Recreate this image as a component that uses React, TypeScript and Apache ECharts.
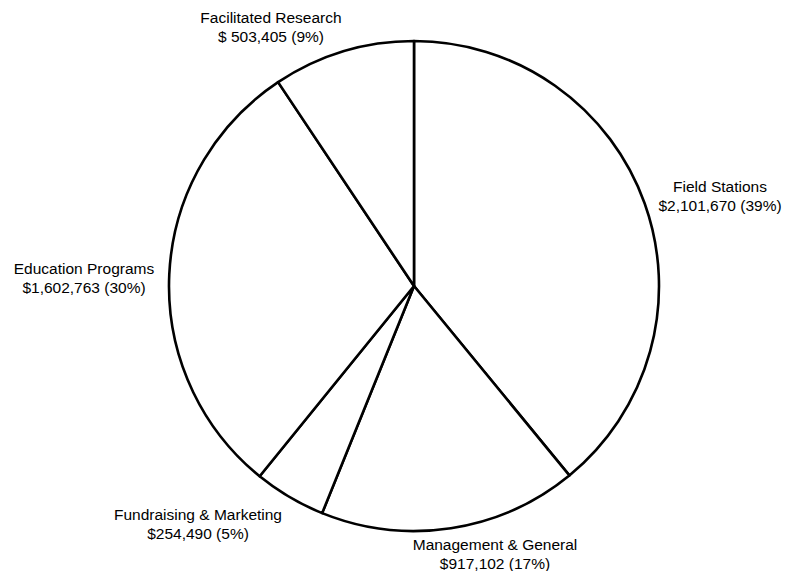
import React, { useEffect, useRef } from "react";
import * as echarts from "echarts";

// Data (clockwise from 12 o'clock)
const categories = [
  "Field Stations",
  "Management & General",
  "Fundraising & Marketing",
  "Education Programs",
  "Facilitated Research",
];
const amounts = [2101670, 917102, 254490, 1602763, 503405];
const currencyPrefix = ["$", "$", "$", "$", "$ "];

// Label anchor points (centre of each two-line label), layout only
const labelAnchors: [number, number][] = [
  [720, 196],
  [495, 554],
  [198, 524],
  [84, 278],
  [271, 27],
];

export default function App() {
  const ref = useRef<HTMLDivElement>(null);

  useEffect(() => {
    if (!ref.current) return;
    const chart = echarts.init(ref.current, undefined, { renderer: "svg" });
    chart.setOption({
      animation: false,
      backgroundColor: "#ffffff",
      series: [
        {
          type: "pie",
          silent: true,
          center: [414, 286],
          radius: 245,
          startAngle: 90,
          clockwise: true,
          percentPrecision: 0,
          avoidLabelOverlap: false,
          itemStyle: { color: "#ffffff", borderColor: "#000000", borderWidth: 2.6 },
          emphasis: { disabled: true },
          labelLine: { show: false },
          label: {
            show: true,
            position: "outside",
            color: "#000000",
            fontFamily: "'Liberation Sans', Arial, sans-serif",
            fontSize: 15.5,
            lineHeight: 19,
            align: "center",
            formatter: (p: any) =>
              p.name +
              "\n" +
              currencyPrefix[p.dataIndex] +
              Number(p.value).toLocaleString("en-US") +
              " (" +
              p.percent +
              "%)",
          },
          labelLayout: (params: any) => {
            const a = labelAnchors[params.dataIndex];
            return { x: a[0], y: a[1], align: "center", verticalAlign: "middle" };
          },
          data: categories.map((name, i) => ({ name, value: amounts[i] })),
        },
      ],
    });
    return () => chart.dispose();
  }, []);

  return (
    <div
      ref={ref}
      style={{ position: "fixed", left: 0, top: 0, width: 786, height: 571, background: "#fff" }}
    />
  );
}
